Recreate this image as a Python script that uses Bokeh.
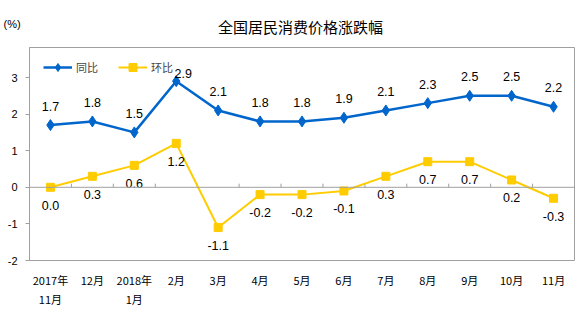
from bokeh.plotting import figure
from bokeh.layouts import column
from bokeh.models import ColumnDataSource, Legend, LegendItem, Label, FixedTicker, Span, Range1d
from bokeh.embed import file_html
from bokeh.resources import INLINE
from bokeh.core.properties import value

months = ["2017年\n11月", "12月", "2018年\n1月", "2月", "3月", "4月", "5月",
          "6月", "7月", "8月", "9月", "10月", "11月"]
yoy = [1.7, 1.8, 1.5, 2.9, 2.1, 1.8, 1.8, 1.9, 2.1, 2.3, 2.5, 2.5, 2.2]
mom = [0.0, 0.3, 0.6, 1.2, -1.1, -0.2, -0.2, -0.1, 0.3, 0.7, 0.7, 0.2, -0.3]
y_ticks = [-2, -1, 0, 1, 2, 3]
title_text = "全国居民消费价格涨跌幅"
unit_text = "(%)"

BLUE = "#0066CC"
YELLOW = "#FFCC00"
GRAY = "#A0A0A0"
NUM_FONT = "Liberation Sans"
CJK_FONT = "Noto Sans CJK SC"

W, H, HEAD = 585, 324, 46

# ---- header figure (title + unit) ----
head = figure(width=W, height=HEAD, output_backend="svg", toolbar_location=None,
              x_axis_location=None, y_axis_location=None,
              x_range=Range1d(0, 1), y_range=Range1d(0, 1), min_border=0)
head.outline_line_color = None
head.xgrid.visible = False
head.ygrid.visible = False
head.border_fill_color = "white"
shift = 0
if "frame_align" in head.properties():
    head.frame_align = False
else:
    shift = 29
head.add_layout(Label(x=300 - shift, y=HEAD - 26, x_units="screen", y_units="screen",
                      text=title_text, text_align="center", text_baseline="middle",
                      text_font=CJK_FONT, text_font_size="15px", text_color="black"))
head.add_layout(Label(x=3 - shift, y=HEAD - 23, x_units="screen", y_units="screen",
                      text=unit_text, text_align="left", text_baseline="middle",
                      text_font=NUM_FONT, text_font_size="11px", text_color="black"))

# ---- main chart ----
x = list(range(len(months)))

p = figure(width=W, height=H - HEAD, output_backend="svg", toolbar_location=None,
           x_range=Range1d(-0.5, len(months) - 0.5), y_range=Range1d(-2, 3.82),
           min_border_left=29, min_border_right=11, min_border_top=1, min_border_bottom=64)
p.background_fill_color = "white"
p.border_fill_color = "white"
p.outline_line_color = GRAY
p.outline_line_width = 1
p.xgrid.visible = False
p.ygrid.visible = False
if "frame_align" in p.properties():
    p.frame_align = False

# y axis
p.yaxis.ticker = FixedTicker(ticks=y_ticks)
p.yaxis.major_label_overrides = {t: str(t) for t in y_ticks}
p.yaxis.axis_line_color = GRAY
p.yaxis.major_tick_line_color = GRAY
p.yaxis.major_tick_out = 4
p.yaxis.major_tick_in = 0
p.yaxis.minor_tick_line_color = None
p.yaxis.major_label_standoff = 8
p.yaxis.major_label_text_font = NUM_FONT
p.yaxis.major_label_text_font_size = "11px"
p.yaxis.major_label_text_color = "black"

# x axis
p.xaxis.ticker = FixedTicker(ticks=x)
p.xaxis.major_label_overrides = {i: m for i, m in zip(x, months)}
p.xaxis.axis_line_color = None
p.xaxis.major_tick_line_color = None
p.xaxis.minor_tick_line_color = None
p.xaxis.major_label_standoff = 5
p.xaxis.major_label_text_font = CJK_FONT
p.xaxis.major_label_text_font_size = "11px"
p.xaxis.major_label_text_color = "black"

# zero line with category boundary ticks
p.add_layout(Span(location=0, dimension="width", line_color=GRAY, line_width=1))
bounds = [i + 0.5 for i in x[:-1]]
tick_h = 0.1
p.segment(x0=bounds, y0=[0] * len(bounds), x1=bounds, y1=[tick_h] * len(bounds),
          line_color=GRAY, line_width=1)

src = ColumnDataSource(dict(x=x, yoy=yoy, mom=mom,
                            yoy_t=[f"{v:.1f}" for v in yoy],
                            mom_t=[f"{v:.1f}" for v in mom],
                            yoy_dx=[7 if v == max(yoy) else 0 for v in yoy],
                            yoy_dy=[-8 if v == max(yoy) else -19 for v in yoy]))

l1 = p.line("x", "yoy", source=src, line_color=BLUE, line_width=2.5)
m1 = p.scatter("x", "yoy", source=src, marker="diamond", size=11,
               fill_color=BLUE, line_color=BLUE)
l2 = p.line("x", "mom", source=src, line_color=YELLOW, line_width=2)
m2 = p.scatter("x", "mom", source=src, marker="square", size=8,
               fill_color=YELLOW, line_color=YELLOW)

p.text("x", "yoy", text="yoy_t", source=src, x_offset="yoy_dx", y_offset="yoy_dy",
       text_align="center", text_baseline="middle", text_font=value(NUM_FONT),
       text_font_size="12.5px", text_color="black")
p.text("x", "mom", text="mom_t", source=src, y_offset=18,
       text_align="center", text_baseline="middle", text_font=value(NUM_FONT),
       text_font_size="12.5px", text_color="black")

legend = Legend(items=[LegendItem(label="同比", renderers=[l1, m1]),
                       LegendItem(label="环比", renderers=[l2, m2])],
                orientation="horizontal", location=(14, 183),
                margin=0, padding=10, spacing=20, label_standoff=4,
                glyph_width=29, glyph_height=20,
                border_line_color=None, background_fill_alpha=0,
                label_text_font=CJK_FONT, label_text_font_size="11px")
p.add_layout(legend)

layout = column(head, p, spacing=0)
open("out.html", "w").write(file_html(layout, INLINE))
